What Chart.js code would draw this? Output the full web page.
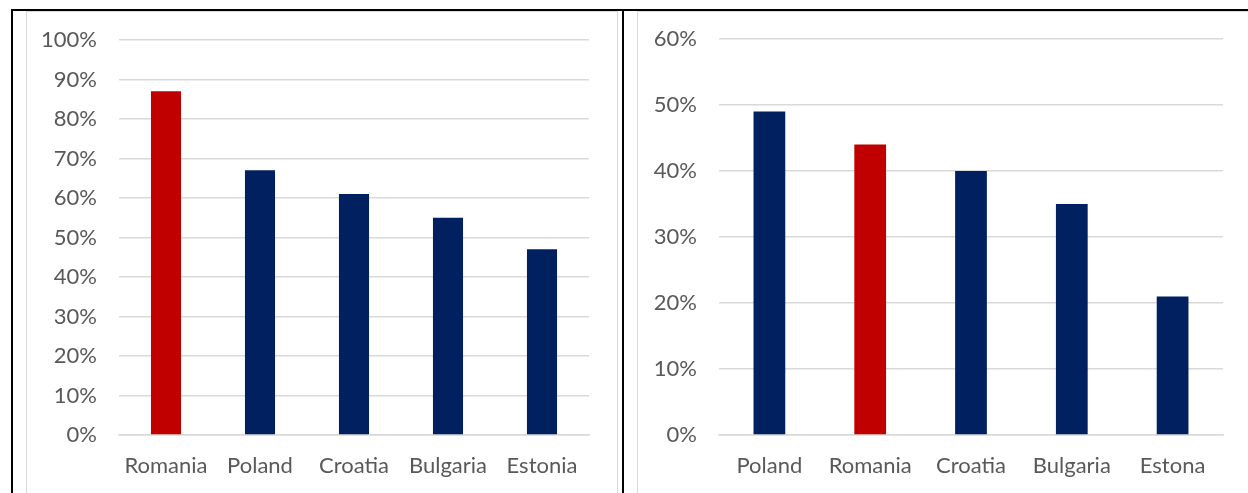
<!DOCTYPE html>
<html>
<head>
<meta charset="utf-8">
<script src="https://cdn.jsdelivr.net/npm/chart.js@4"></script>
<style>
  html, body { margin: 0; padding: 0; background: #fff; }
  body { width: 1248px; height: 493px; position: relative; overflow: hidden; }
  .frame-top { position: absolute; left: 11px; top: 9px; width: 1237px; height: 2px; background: #000; }
  .frame-left { position: absolute; left: 11px; top: 9px; width: 2px; height: 484px; background: #000; }
  .frame-mid { position: absolute; left: 622px; top: 9px; width: 2px; height: 484px; background: #000; }
  .box { position: absolute; top: 11px; height: 490px; border: 1px solid #d9d9d9; background: #fff; }
  #boxLeft { left: 26px; width: 590px; }
  #boxRight { left: 637px; width: 620px; }
  canvas { position: absolute; left: 0; top: 0; }
</style>
</head>
<body>
<div class="frame-top"></div>
<div class="frame-left"></div>
<div class="frame-mid"></div>
<div class="box" id="boxLeft"><canvas id="leftChart" width="590" height="481"></canvas></div>
<div class="box" id="boxRight"><canvas id="rightChart" width="611" height="481"></canvas></div>

<script>
// left panel
const leftCountries = ['Romania', 'Poland', 'Croatia', 'Bulgaria', 'Estonia'];
const leftValues = [87, 67, 61, 55, 47];
const leftColors = ['#C00000', '#002060', '#002060', '#002060', '#002060'];
const leftMax = 100;

// right panel
const rightCountries = ['Poland', 'Romania', 'Croatia', 'Bulgaria', 'Estona'];
const rightValues = [49, 44, 40, 35, 21];
const rightColors = ['#002060', '#C00000', '#002060', '#002060', '#002060'];
const rightMax = 60;

const TEXT = '#595959';
const GRID = '#d9d9d9';
const FONT = { family: 'Lato', size: 22 };

function barChart(id, labels, values, colors, max, layout) {
    return new Chart(document.getElementById(id), {
        type: 'bar',
        data: {
            labels: labels,
            datasets: [{
                data: values,
                backgroundColor: colors,
                categoryPercentage: 1,
                barPercentage: layout.barPct
            }]
        },
        options: {
            responsive: false,
            animation: false,
            layout: { padding: { top: layout.top, right: layout.right, left: 0, bottom: 0 } },
            plugins: { legend: { display: false }, tooltip: { enabled: false } },
            scales: {
                x: {
                    grid: { display: false, drawTicks: false },
                    border: { color: GRID, width: 1.5 },
                    ticks: { color: TEXT, font: FONT, padding: 18, maxRotation: 0 },
                    afterFit: s => { s.height = layout.xHeight; }
                },
                y: {
                    min: 0,
                    max: max,
                    // invisible tick marks keep the labels clear of the grid
                    grid: { color: GRID, lineWidth: 1.5, tickLength: 16, tickColor: 'transparent' },
                    border: { display: false },
                    ticks: {
                        stepSize: 10,
                        color: TEXT,
                        font: FONT,
                        padding: 6,
                        callback: v => v + '%'
                    },
                    afterFit: s => { s.width = layout.yWidth; }
                }
            }
        }
    });
}

barChart('leftChart', leftCountries, leftValues, leftColors, leftMax,
    { top: 28, right: 28, yWidth: 92, xHeight: 58, barPct: 0.32 });
barChart('rightChart', rightCountries, rightValues, rightColors, rightMax,
    { top: 27, right: 26, yWidth: 81, xHeight: 58, barPct: 0.315 });
</script>
</body>
</html>
